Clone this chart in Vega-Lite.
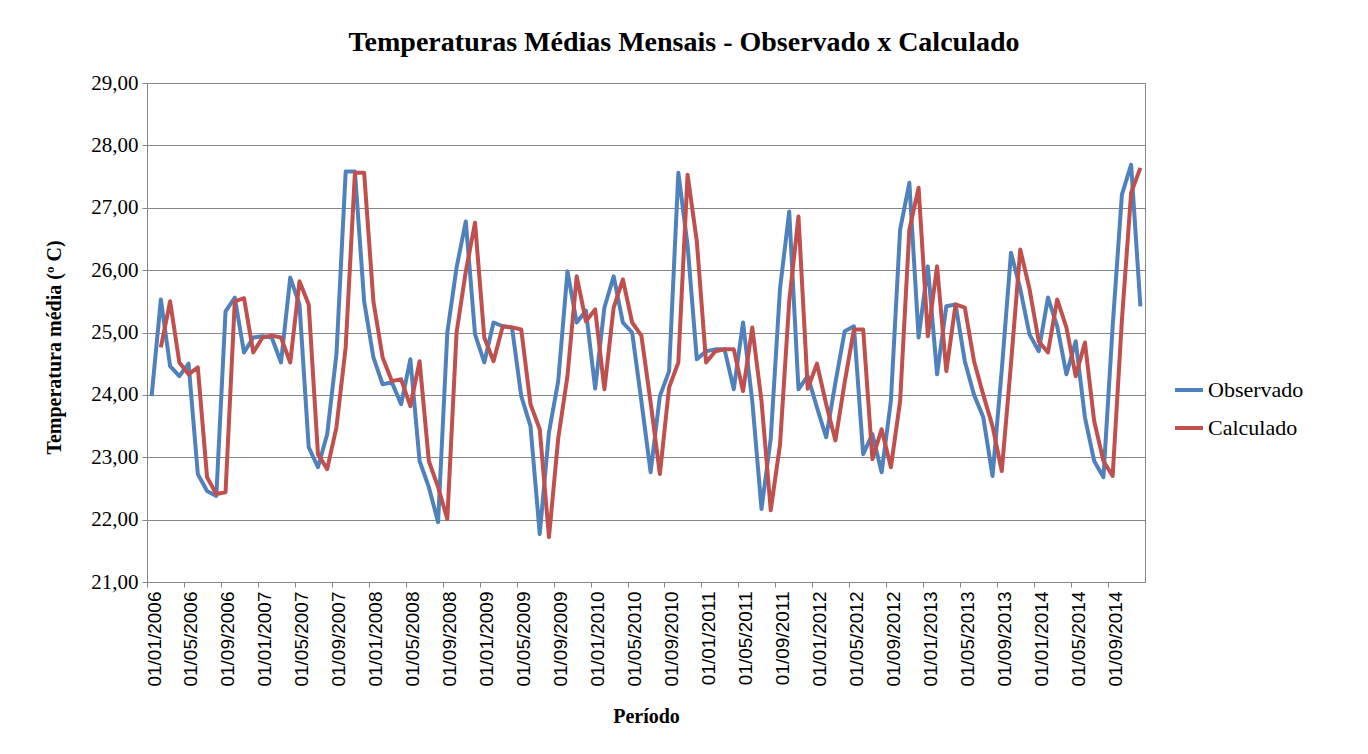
{
  "$schema": "https://vega.github.io/schema/vega-lite/v6.json",
  "autosize": {"type": "none"},
  "width": 998,
  "height": 499,
  "padding": {"left": 147, "top": 83, "right": 223, "bottom": 172},
  "background": "#ffffff",
  "config": {
    "view": {"stroke": "#868686", "strokeWidth": 1},
    "font": "Liberation Serif"
  },
  "title": {
    "text": "Temperaturas Médias Mensais - Observado x Calculado",
    "font": "Liberation Serif",
    "fontSize": 28,
    "fontWeight": "bold",
    "color": "#000000",
    "anchor": "middle",
    "frame": "group",
    "dx": 38,
    "offset": 15
  },
  "datasets": {
    "obs": [
      {"Data":"01/01/2006","T":23.98},{"Data":"01/02/2006","T":25.53},{"Data":"01/03/2006","T":24.46},{"Data":"01/04/2006","T":24.30},
      {"Data":"01/05/2006","T":24.50},{"Data":"01/06/2006","T":22.73},{"Data":"01/07/2006","T":22.46},{"Data":"01/08/2006","T":22.38},
      {"Data":"01/09/2006","T":25.34},{"Data":"01/10/2006","T":25.56},{"Data":"01/11/2006","T":24.68},{"Data":"01/12/2006","T":24.92},
      {"Data":"01/01/2007","T":24.94},{"Data":"01/02/2007","T":24.92},{"Data":"01/03/2007","T":24.52},{"Data":"01/04/2007","T":25.88},
      {"Data":"01/05/2007","T":25.45},{"Data":"01/06/2007","T":23.16},{"Data":"01/07/2007","T":22.84},{"Data":"01/08/2007","T":23.37},
      {"Data":"01/09/2007","T":24.65},{"Data":"01/10/2007","T":27.58},{"Data":"01/11/2007","T":27.58},{"Data":"01/12/2007","T":25.50},
      {"Data":"01/01/2008","T":24.60},{"Data":"01/02/2008","T":24.17},{"Data":"01/03/2008","T":24.20},{"Data":"01/04/2008","T":23.85},
      {"Data":"01/05/2008","T":24.57},{"Data":"01/06/2008","T":22.94},{"Data":"01/07/2008","T":22.52},{"Data":"01/08/2008","T":21.96},
      {"Data":"01/09/2008","T":25.00},{"Data":"01/10/2008","T":26.04},{"Data":"01/11/2008","T":26.78},{"Data":"01/12/2008","T":24.97},
      {"Data":"01/01/2009","T":24.52},{"Data":"01/02/2009","T":25.16},{"Data":"01/03/2009","T":25.10},{"Data":"01/04/2009","T":25.08},
      {"Data":"01/05/2009","T":23.98},{"Data":"01/06/2009","T":23.50},{"Data":"01/07/2009","T":21.77},{"Data":"01/08/2009","T":23.40},
      {"Data":"01/09/2009","T":24.22},{"Data":"01/10/2009","T":25.98},{"Data":"01/11/2009","T":25.16},{"Data":"01/12/2009","T":25.35},
      {"Data":"01/01/2010","T":24.10},{"Data":"01/02/2010","T":25.40},{"Data":"01/03/2010","T":25.90},{"Data":"01/04/2010","T":25.16},
      {"Data":"01/05/2010","T":25.00},{"Data":"01/06/2010","T":23.90},{"Data":"01/07/2010","T":22.76},{"Data":"01/08/2010","T":23.98},
      {"Data":"01/09/2010","T":24.38},{"Data":"01/10/2010","T":27.56},{"Data":"01/11/2010","T":26.40},{"Data":"01/12/2010","T":24.57},
      {"Data":"01/01/2011","T":24.70},{"Data":"01/02/2011","T":24.73},{"Data":"01/03/2011","T":24.73},{"Data":"01/04/2011","T":24.09},
      {"Data":"01/05/2011","T":25.16},{"Data":"01/06/2011","T":23.90},{"Data":"01/07/2011","T":22.17},{"Data":"01/08/2011","T":23.30},
      {"Data":"01/09/2011","T":25.70},{"Data":"01/10/2011","T":26.94},{"Data":"01/11/2011","T":24.09},{"Data":"01/12/2011","T":24.30},
      {"Data":"01/01/2012","T":23.80},{"Data":"01/02/2012","T":23.32},{"Data":"01/03/2012","T":24.20},{"Data":"01/04/2012","T":25.02},
      {"Data":"01/05/2012","T":25.10},{"Data":"01/06/2012","T":23.05},{"Data":"01/07/2012","T":23.37},{"Data":"01/08/2012","T":22.76},
      {"Data":"01/09/2012","T":23.90},{"Data":"01/10/2012","T":26.65},{"Data":"01/11/2012","T":27.40},{"Data":"01/12/2012","T":24.92},
      {"Data":"01/01/2013","T":26.06},{"Data":"01/02/2013","T":24.33},{"Data":"01/03/2013","T":25.42},{"Data":"01/04/2013","T":25.45},
      {"Data":"01/05/2013","T":24.54},{"Data":"01/06/2013","T":24.00},{"Data":"01/07/2013","T":23.64},{"Data":"01/08/2013","T":22.70},
      {"Data":"01/09/2013","T":24.40},{"Data":"01/10/2013","T":26.28},{"Data":"01/11/2013","T":25.70},{"Data":"01/12/2013","T":24.97},
      {"Data":"01/01/2014","T":24.70},{"Data":"01/02/2014","T":25.56},{"Data":"01/03/2014","T":25.10},{"Data":"01/04/2014","T":24.33},
      {"Data":"01/05/2014","T":24.86},{"Data":"01/06/2014","T":23.64},{"Data":"01/07/2014","T":22.94},{"Data":"01/08/2014","T":22.68},
      {"Data":"01/09/2014","T":25.10},{"Data":"01/10/2014","T":27.21},{"Data":"01/11/2014","T":27.69},{"Data":"01/12/2014","T":25.42}
    ],
    "calc": [
      {"Data":"01/02/2006","T":24.76},{"Data":"01/03/2006","T":25.50},{"Data":"01/04/2006","T":24.52},
      {"Data":"01/05/2006","T":24.33},{"Data":"01/06/2006","T":24.44},{"Data":"01/07/2006","T":22.68},{"Data":"01/08/2006","T":22.41},
      {"Data":"01/09/2006","T":22.44},{"Data":"01/10/2006","T":25.50},{"Data":"01/11/2006","T":25.55},{"Data":"01/12/2006","T":24.68},
      {"Data":"01/01/2007","T":24.92},{"Data":"01/02/2007","T":24.95},{"Data":"01/03/2007","T":24.92},{"Data":"01/04/2007","T":24.52},
      {"Data":"01/05/2007","T":25.82},{"Data":"01/06/2007","T":25.45},{"Data":"01/07/2007","T":23.05},{"Data":"01/08/2007","T":22.81},
      {"Data":"01/09/2007","T":23.48},{"Data":"01/10/2007","T":24.76},{"Data":"01/11/2007","T":27.56},{"Data":"01/12/2007","T":27.56},
      {"Data":"01/01/2008","T":25.50},{"Data":"01/02/2008","T":24.60},{"Data":"01/03/2008","T":24.22},{"Data":"01/04/2008","T":24.25},
      {"Data":"01/05/2008","T":23.82},{"Data":"01/06/2008","T":24.54},{"Data":"01/07/2008","T":22.94},{"Data":"01/08/2008","T":22.52},
      {"Data":"01/09/2008","T":22.01},{"Data":"01/10/2008","T":25.00},{"Data":"01/11/2008","T":25.98},{"Data":"01/12/2008","T":26.76},
      {"Data":"01/01/2009","T":24.92},{"Data":"01/02/2009","T":24.54},{"Data":"01/03/2009","T":25.10},{"Data":"01/04/2009","T":25.08},
      {"Data":"01/05/2009","T":25.05},{"Data":"01/06/2009","T":23.85},{"Data":"01/07/2009","T":23.45},{"Data":"01/08/2009","T":21.72},
      {"Data":"01/09/2009","T":23.30},{"Data":"01/10/2009","T":24.30},{"Data":"01/11/2009","T":25.90},{"Data":"01/12/2009","T":25.18},
      {"Data":"01/01/2010","T":25.37},{"Data":"01/02/2010","T":24.09},{"Data":"01/03/2010","T":25.40},{"Data":"01/04/2010","T":25.85},
      {"Data":"01/05/2010","T":25.16},{"Data":"01/06/2010","T":24.95},{"Data":"01/07/2010","T":23.88},{"Data":"01/08/2010","T":22.73},
      {"Data":"01/09/2010","T":24.12},{"Data":"01/10/2010","T":24.52},{"Data":"01/11/2010","T":27.53},{"Data":"01/12/2010","T":26.46},
      {"Data":"01/01/2011","T":24.52},{"Data":"01/02/2011","T":24.70},{"Data":"01/03/2011","T":24.73},{"Data":"01/04/2011","T":24.73},
      {"Data":"01/05/2011","T":24.06},{"Data":"01/06/2011","T":25.08},{"Data":"01/07/2011","T":23.90},{"Data":"01/08/2011","T":22.15},
      {"Data":"01/09/2011","T":23.20},{"Data":"01/10/2011","T":25.50},{"Data":"01/11/2011","T":26.86},{"Data":"01/12/2011","T":24.10},
      {"Data":"01/01/2012","T":24.50},{"Data":"01/02/2012","T":23.85},{"Data":"01/03/2012","T":23.27},{"Data":"01/04/2012","T":24.20},
      {"Data":"01/05/2012","T":25.05},{"Data":"01/06/2012","T":25.05},{"Data":"01/07/2012","T":22.97},{"Data":"01/08/2012","T":23.45},
      {"Data":"01/09/2012","T":22.84},{"Data":"01/10/2012","T":23.90},{"Data":"01/11/2012","T":26.65},{"Data":"01/12/2012","T":27.32},
      {"Data":"01/01/2013","T":24.94},{"Data":"01/02/2013","T":26.06},{"Data":"01/03/2013","T":24.38},{"Data":"01/04/2013","T":25.45},
      {"Data":"01/05/2013","T":25.40},{"Data":"01/06/2013","T":24.54},{"Data":"01/07/2013","T":24.00},{"Data":"01/08/2013","T":23.50},
      {"Data":"01/09/2013","T":22.78},{"Data":"01/10/2013","T":24.50},{"Data":"01/11/2013","T":26.33},{"Data":"01/12/2013","T":25.70},
      {"Data":"01/01/2014","T":24.86},{"Data":"01/02/2014","T":24.68},{"Data":"01/03/2014","T":25.53},{"Data":"01/04/2014","T":25.08},
      {"Data":"01/05/2014","T":24.30},{"Data":"01/06/2014","T":24.84},{"Data":"01/07/2014","T":23.58},{"Data":"01/08/2014","T":22.94},
      {"Data":"01/09/2014","T":22.70},{"Data":"01/10/2014","T":25.20},{"Data":"01/11/2014","T":27.24},{"Data":"01/12/2014","T":27.64}
    ]
  },
  "encoding": {
    "x": {
      "field": "Data",
      "type": "ordinal",
      "sort": null,
      "scale": {"type": "point", "padding": 0.5},
      "axis": {
        "title": "Período",
        "titleFont": "Liberation Serif",
        "titleFontSize": 20,
        "titleFontWeight": "bold",
        "titleColor": "#000000",
        "titlePadding": 20,
        "values": ["01/01/2006","01/05/2006","01/09/2006","01/01/2007","01/05/2007","01/09/2007","01/01/2008","01/05/2008","01/09/2008","01/01/2009","01/05/2009","01/09/2009","01/01/2010","01/05/2010","01/09/2010","01/01/2011","01/05/2011","01/09/2011","01/01/2012","01/05/2012","01/09/2012","01/01/2013","01/05/2013","01/09/2013","01/01/2014","01/05/2014","01/09/2014"],
        "labelAngle": 270,
        "labelAlign": "right",
        "labelBaseline": "middle",
        "labelFont": "Liberation Sans",
        "labelFontSize": 19,
        "labelColor": "#000000",
        "labelPadding": 4,
        "labelOffset": 7,
        "tickOffset": -4.62,
        "tickSize": 5,
        "tickColor": "#868686",
        "domainColor": "#868686",
        "grid": false
      }
    },
    "y": {
      "field": "T",
      "type": "quantitative",
      "scale": {"domain": [21, 29], "nice": false, "zero": false},
      "axis": {
        "title": "Temperatura média (º C)",
        "titleFont": "Liberation Serif",
        "titleFontSize": 20,
        "titleFontWeight": "bold",
        "titleColor": "#000000",
        "titlePadding": 26,
        "titleY": 264,
        "values": [21, 22, 23, 24, 25, 26, 27, 28, 29],
        "labelExpr": "replace(format(datum.value, '.2f'), '.', ',')",
        "labelFont": "Liberation Serif",
        "labelFontSize": 21,
        "labelColor": "#000000",
        "labelPadding": 4,
        "tickSize": 5,
        "tickColor": "#868686",
        "domainColor": "#868686",
        "grid": true,
        "gridColor": "#868686",
        "gridWidth": 1
      }
    }
  },
  "layer": [
    {
      "data": {"name": "obs"},
      "mark": {"type": "line", "strokeWidth": 4, "strokeJoin": "round"},
      "encoding": {
        "color": {
          "datum": "Observado",
          "type": "nominal",
          "scale": {"domain": ["Observado", "Calculado"], "range": ["#4F81BD", "#C0504D"]},
          "legend": {
            "title": null,
            "orient": "none",
            "legendX": 1026,
            "legendY": 291,
            "symbolType": "stroke",
            "symbolStrokeWidth": 4,
            "symbolSize": 784,
            "labelFont": "Liberation Serif",
            "labelFontSize": 22,
            "labelColor": "#000000",
            "labelOffset": 3,
            "rowPadding": 11
          }
        }
      }
    },
    {
      "data": {"name": "calc"},
      "mark": {"type": "line", "strokeWidth": 4, "strokeJoin": "round"},
      "encoding": {"color": {"datum": "Calculado", "type": "nominal"}}
    }
  ]
}
